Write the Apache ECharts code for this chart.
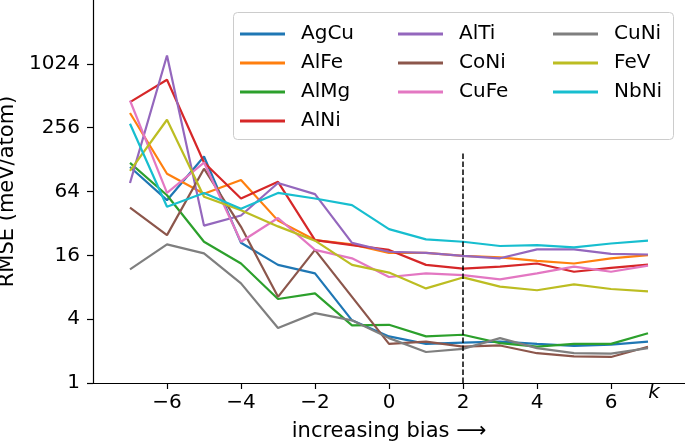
<!DOCTYPE html>
<html>
<head>
<meta charset="utf-8">
<script src="https://cdn.jsdelivr.net/npm/echarts@6/dist/echarts.min.js"></script>
<style>
html,body{margin:0;padding:0;background:#fff;}
#c{width:685px;height:444px;}
</style>
</head>
<body>
<div id="c"></div>
<script>
var ks = [-7,-6,-5,-4,-3,-2,-1,0,1,2,3,4,5,6,7];
var xTicks = [-6,-4,-2,0,2,4,6];
var yTicks = [1,4,16,64,256,1024];

var AgCu = [109,53,137,21,13,10.8,3.9,2.75,2.34,2.4,2.46,2.34,2.24,2.3,2.46];
var AlFe = [352,94,61,82,34,22.3,20.3,16.9,16.9,15.8,15.3,14.2,13.4,15,16.1];
var AlMg = [119,59,21.5,13.4,6.2,7,3.5,3.54,2.75,2.85,2.38,2.2,2.34,2.34,2.95];
var AlNi = [446,724,120,55,79,22.3,20,18,13,12,12.5,13.4,11.2,12.2,13.1];
var AlTi = [77,1226,30.5,38,77,60.5,21,17.3,16.9,15.8,15,18.2,18.2,16.5,16.3];
var CoNi = [45,24.8,105,29.7,6.5,18,6.5,2.34,2.46,2.2,2.26,1.91,1.78,1.76,2.2];
var CuFe = [462,62,120,21.5,36,18,15,10,10.8,10.4,9.5,10.8,12.5,11.2,12.8];
var CuNi = [11.8,20.3,16.7,8.7,3.3,4.56,3.9,2.65,1.96,2.1,2.65,2.13,1.91,1.89,2.13];
var FeV  = [100,304,57,42.7,30,22,13,11,7.8,9.9,8.1,7.5,8.5,7.7,7.3];
var NbNi = [279,46,62,44,62,55,47.6,28.3,22.6,21.5,19.6,20,19,20.7,22];

var names = ['AgCu','AlFe','AlMg','AlNi','AlTi','CoNi','CuFe','CuNi','FeV','NbNi'];
var values = [AgCu,AlFe,AlMg,AlNi,AlTi,CoNi,CuFe,CuNi,FeV,NbNi];
var colors = ['#1f77b4','#ff7f0e','#2ca02c','#d62728','#9467bd','#8c564b','#e377c2','#7f7f7f','#bcbd22','#17becf'];
var biasLine = [[2,1],[2,147]];

var FONT = 'DejaVu Sans';
var series = names.map(function(n,i){
  return {
    name: n, type: 'line', symbol: 'none', showSymbol: false,
    data: ks.map(function(k,j){ return [k, values[i][j]]; }),
    lineStyle: {width: 2.2, color: colors[i]},
    itemStyle: {color: colors[i]},
    emphasis: {disabled: true},
    animation: false
  };
});
series.push({
  name: '_bias', type: 'line', symbol: 'none', data: biasLine,
  lineStyle: {width: 1.5, color: '#000', type: [5.5, 2.5]},
  emphasis: {disabled: true}, silent: true, animation: false, z: 5
});

function legendCol(data, left){
  return {
    data: data, orient: 'vertical', left: left, top: 24, padding: 0,
    itemGap: 9, itemWidth: 45, itemHeight: 3, icon: 'rect',
    selectedMode: false,
    textStyle: {fontFamily: FONT, fontSize: 20, color: '#000', padding: [0,0,0,11]}
  };
}

var chart = echarts.init(document.getElementById('c'), null, {renderer: 'canvas'});
chart.setOption({
  animation: false,
  backgroundColor: '#fff',
  grid: {left: 93, right: 0, top: 0, bottom: 61, containLabel: false, outerBoundsMode: 'none'},
  xAxis: {
    type: 'value', min: -8, max: 8,
    name: 'increasing bias \u27f6', nameLocation: 'middle', nameGap: 38,
    nameTextStyle: {fontFamily: FONT, fontSize: 21, color: '#000'},
    axisLine: {onZero: false, lineStyle: {color: '#000', width: 1.2}},
    axisTick: {show: true, length: 6, inside: false, lineStyle: {color: '#000', width: 1.2}, customValues: xTicks},
    axisLabel: {margin: 10, fontFamily: FONT, fontSize: 20, color: '#000', customValues: xTicks,
      formatter: function(v){ return String(v).replace('-', '\u2212'); }},
    splitLine: {show: false}
  },
  yAxis: {
    type: 'log', logBase: 4, min: 1, max: 4096,
    name: 'RMSE (meV/atom)', nameLocation: 'middle', nameGap: 73, nameRotate: 90,
    nameTextStyle: {fontFamily: FONT, fontSize: 21, color: '#000'},
    axisLine: {show: true, onZero: false, lineStyle: {color: '#000', width: 1.2}},
    axisTick: {show: true, length: 6, lineStyle: {color: '#000', width: 1.2}, customValues: yTicks},
    axisLabel: {margin: 13, fontFamily: FONT, fontSize: 20, color: '#000', customValues: yTicks,
      formatter: function(v){ var r = Math.round(v); return r > 2000 ? '' : String(r); }},
    splitLine: {show: false}
  },
  legend: [
    legendCol(['AgCu','AlFe','AlMg','AlNi'], 240),
    legendCol(['AlTi','CoNi','CuFe'], 398),
    legendCol(['CuNi','FeV','NbNi'], 553)
  ],
  graphic: [
    {type: 'rect', z: 3, shape: {x: 233.5, y: 12.5, width: 440, height: 127, r: 4},
     style: {fill: 'rgba(255,255,255,0.8)', stroke: '#cccccc', lineWidth: 1}},
    {type: 'text', z: 5, x: 654, y: 393,
     style: {text: 'k', fontFamily: FONT, fontStyle: 'italic', fontSize: 20, fill: '#000', align: 'center', verticalAlign: 'middle'}}
  ],
  series: series
});
</script>
</body>
</html>
